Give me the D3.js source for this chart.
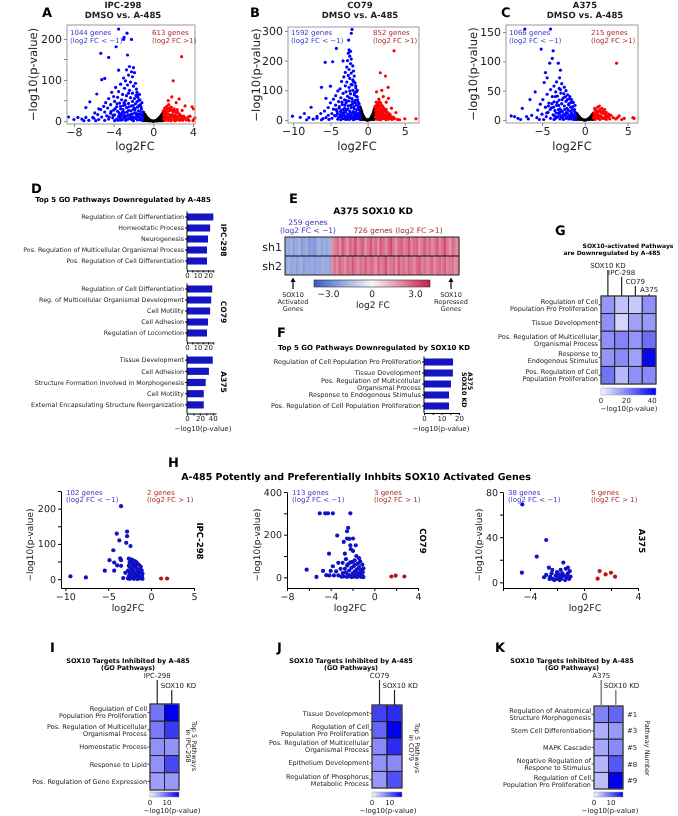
<!DOCTYPE html>
<html><head><meta charset="utf-8">
<script src="https://cdn.jsdelivr.net/npm/d3@7"></script>
<style>body{margin:0;background:#fff} svg{display:block;will-change:transform} text{font-family:"DejaVu Sans",Verdana,sans-serif;text-rendering:geometricPrecision}</style>
</head><body><div id="chart"></div><script>
// ---------- data: volcano plots (log2FC, -log10 p) ----------
var volA_blue = [[-3.5,224],[-2.65,214],[-2.95,204],[-3.0,199],[-2.2,199],[-3.75,181],[-5.3,165],[-4.5,155],[-2.6,161],[-3.5,124],[-4.9,104],[-5.2,101],[-5.7,66],[-6.4,47],[-6.8,33],[-8.55,10],[-7.6,9],[-6.8,9],[-6.1,9],[-7.2,5],[-8.0,4],[-5.9,20],[-5.5,30],
[-2.4,133],[-2.0,130],[-2.7,125],[-2.2,120],[-1.9,118],[-2.5,112],[-2.1,108],[-3.0,105],[-2.8,98],[-2.3,95],[-1.8,92],[-3.3,90],[-2.6,88],[-2.0,85],[-3.8,82],[-2.9,80],[-1.7,78],[-2.4,75],[-3.5,72],[-4.2,70],[-2.1,68],[-3.1,65],[-1.6,64],[-2.7,62],[-4.0,60],[-3.6,58],[-2.3,57],[-1.9,55],[-4.5,55],[-3.2,52],[-2.8,50],[-1.5,50],[-2.1,48],[-3.9,48],[-4.8,45],[-3.4,44],[-2.5,43],[-1.8,42],[-1.3,40],[-4.3,40],[-3.0,38],[-2.2,37],[-5.0,36],[-3.7,35],[-1.6,34],[-2.7,33],[-4.6,32],[-1.2,30],[-3.3,30],[-2.0,29],[-5.3,28],[-4.0,27],[-2.5,26],[-1.5,25],[-3.6,24],[-1.1,22],[-4.9,22],[-2.9,21],[-1.9,20],[-4.3,19],[-3.2,18],[-1.3,17],[-5.6,16],[-2.3,16],[-3.9,15],[-1.7,14],[-4.7,13],[-2.7,12],[-1.05,12],[-3.5,11],[-5.2,10],[-2.1,10],[-1.4,9],[-4.1,8],[-3.0,8],[-6.0,7],[-1.8,7],[-2.5,6],[-4.5,5],[-3.7,5],[-1.2,5],[-5.5,4],[-2.2,4],[-3.3,3],[-1.6,3],[-4.9,2],[-2.8,2],[-6.5,2],[-1.1,2],[-3.9,1],[-2.0,1],[-5.8,1],[-7.0,1],
[-1.15,45],[-1.35,52],[-1.55,58],[-1.75,62],[-1.25,35],[-1.45,38],[-1.65,47],[-1.85,28],[-2.05,38],[-2.25,25],[-2.45,35],[-2.65,22],[-2.85,40],[-3.05,28],[-3.25,12],[-3.45,20],[-3.65,42],[-3.85,30],[-4.05,14],[-4.25,24],[-4.45,10],[-1.15,14],[-1.35,24],[-1.55,12],[-1.75,20],[-1.95,9],[-2.15,17],[-2.35,11],[-2.55,15],[-2.75,5],[-2.95,14],[-3.15,3],[-3.35,7],[-3.55,2],[-1.1,7],[-1.3,3],[-1.5,17],[-1.7,6],[-1.9,32],[-2.1,3],[-2.3,7],[-2.6,4],[-2.9,10],[-3.1,22],[-3.4,14],[-1.4,65],[-1.65,70],[-2.5,68],[-2.95,45],[-3.3,36]];
var volA_black = [[-1,22],[-0.9,18],[-0.8,15],[-0.7,11],[-0.6,8],[-0.5,6],[-0.4,4],[-0.3,2],[-0.2,1],[0,0],[0.2,1],[0.3,2],[0.4,4],[0.5,6],[0.6,8],[0.7,11],[0.8,14],[0.9,18],[1,22],[-0.9,8],[-0.8,5],[-0.7,3],[-0.6,2],[-0.5,1],[-0.95,12],[0.95,12],[0.9,7],[0.8,4],[0.7,2],[0.6,1],[-0.4,0.5],[0.4,0.5],[-0.1,0.2],[0.1,0.2],[-0.85,2],[0.85,2],[-0.75,1],[0.75,1],[-1,4],[1,4],[-0.95,1],[0.95,1]];
var volA_red = [[2.85,157],[2.0,98],[1.86,59],[2.6,54],[3.2,37],[3.9,35],[4.05,30],[3.5,10],[4.1,5],[2.3,45],[1.5,50],[2.9,26],[3.7,12],[4.2,8],
[1.0,25],[1.2,28],[1.4,30],[1.6,32],[1.8,34],[2.1,30],[2.4,28],[1.1,20],[1.3,22],[1.5,24],[1.7,26],[2.0,22],[2.3,20],[2.6,18],[1.05,15],[1.25,16],[1.45,18],[1.65,15],[1.9,16],[2.2,14],[2.5,12],[2.8,10],[1.1,10],[1.35,11],[1.6,9],[1.85,10],[2.1,8],[2.4,7],[2.7,6],[3.0,5],[1.05,5],[1.3,6],[1.55,5],[1.8,4],[2.05,3],[2.35,3],[2.65,2],[2.95,2],[3.3,3],[1.2,2],[1.5,1.5],[1.75,1],[2.2,1],[3.6,1],[4.0,1],
[1.15,32],[1.35,36],[1.55,40],[1.75,28],[1.95,26],[2.15,24],[2.45,22],[2.75,14],[3.05,12],[1.2,13],[1.4,8],[1.7,12],[2.0,12],[2.3,9],[2.6,4],[2.9,7],[3.2,8],[3.5,4]];

var volB_blue = [[-2.1,305],[-2.2,292],[-2.55,269],[-4.2,241],[-2.5,236],[-2.3,231],[-5.7,194],[-4.7,196],[-3.3,199],[-6.2,110],[-5.0,114],[-5.6,73],[-7.6,43],[-8.5,22],[-10.1,13],[-9.05,9],[-7.9,8],[-6.8,6],[-6.0,5],
[-2.6,225],[-2.4,215],[-2.2,205],[-2.7,200],[-2.3,190],[-2.0,182],[-2.8,178],[-2.5,170],[-1.9,165],[-3.0,160],[-2.2,158],[-2.6,150],[-1.8,148],[-3.2,145],[-2.4,140],[-2.0,135],[-3.5,130],[-2.8,128],[-1.7,125],[-2.2,120],[-3.0,115],[-2.5,110],[-1.6,108],[-3.7,105],[-2.0,100],[-4.0,98],[-2.9,95],[-1.5,95],[-3.3,90],[-2.3,88],[-1.8,85],[-4.3,82],[-2.7,80],[-1.4,78],[-3.6,75],[-2.1,72],[-4.6,70],[-3.1,68],[-1.7,66],[-2.5,64],[-3.9,62],[-1.3,60],[-5.0,58],[-2.9,58],[-2.0,55],[-3.4,52],[-4.3,50],[-1.5,50],[-2.6,48],[-1.2,45],[-3.8,45],[-5.3,42],[-2.2,42],[-3.1,40],[-1.8,38],[-4.6,37],[-2.8,35],[-1.1,34],[-3.5,33],[-5.8,30],[-2.4,30],[-4.1,28],[-1.6,27],[-3.2,25],[-2.0,24],[-6.3,22],[-4.8,22],[-1.3,21],[-2.7,20],[-3.7,18],[-1.05,17],[-5.3,16],[-2.3,15],[-4.3,14],[-1.8,13],[-3.0,12],[-6.8,12],[-1.4,10],[-2.6,9],[-3.9,9],[-5.6,8],[-2.0,7],[-1.15,6],[-4.8,6],[-3.3,5],[-1.6,4],[-2.4,3],[-7.3,3],[-4.0,3],[-1.0,2],[-2.9,2],[-5.2,2],[-1.9,1],[-3.6,1],[-6.2,1],[-8.2,1],
[-1.15,55],[-1.35,68],[-1.55,80],[-1.75,92],[-1.25,40],[-1.45,35],[-1.65,58],[-1.85,45],[-2.05,62],[-2.25,50],[-2.45,75],[-2.65,38],[-2.85,65],[-3.05,50],[-3.25,35],[-3.45,60],[-3.65,28],[-3.85,40],[-4.05,20],[-4.25,35],[-4.45,15],[-1.15,24],[-1.35,14],[-1.55,18],[-1.75,12],[-1.95,28],[-2.15,20],[-2.35,24],[-2.55,14],[-2.75,10],[-2.95,28],[-3.15,18],[-3.35,22],[-3.55,10],[-1.1,9],[-1.3,5],[-1.5,7],[-1.7,20],[-1.9,5],[-2.1,11],[-2.3,5],[-2.6,3],[-2.9,6],[-3.1,4],[-3.4,14],[-1.4,100],[-1.6,115],[-2.1,118],[-2.4,98],[-1.9,130]];
var volB_black = [[-1,44],[-0.9,36],[-0.8,28],[-0.7,21],[-0.6,15],[-0.5,10],[-0.4,6],[-0.3,3],[-0.2,1],[0,0],[0.2,1],[0.3,3],[0.4,6],[0.5,10],[0.6,15],[0.7,21],[0.8,28],[0.9,36],[1,44],[-0.95,20],[-0.85,12],[-0.75,7],[-0.65,4],[-0.5,2],[0.5,2],[0.65,4],[0.75,7],[0.85,12],[0.95,20],[-0.9,4],[0.9,4],[-0.1,0.3],[0.1,0.3],[-0.95,30],[0.95,30],[-0.8,2],[0.8,2]];
var volB_red = [[3.55,233],[1.7,159],[2.4,148],[2.75,110],[1.2,95],[2.8,73],[2.1,79],[5.0,4],[6.5,4],[1.5,70],[2.5,60],[1.9,100],[3.2,40],[3.8,25],
[1.0,45],[1.2,50],[1.4,55],[1.6,48],[1.8,52],[2.0,45],[2.2,40],[2.5,35],[1.1,38],[1.3,40],[1.5,42],[1.7,38],[1.9,35],[2.3,30],[2.7,25],[3.0,20],[1.05,30],[1.25,32],[1.45,30],[1.65,28],[1.85,25],[2.1,22],[2.4,18],[2.9,12],[3.4,10],[1.1,20],[1.35,22],[1.6,18],[1.95,15],[2.2,12],[2.6,8],[3.1,6],[3.6,5],[1.05,10],[1.3,12],[1.55,9],[1.8,7],[2.05,5],[2.35,4],[2.8,3],[3.3,2],[4.0,2],[1.2,3],[1.5,2],[1.75,1],[2.5,1],[4.3,1],
[1.15,60],[1.35,48],[1.55,62],[1.75,58],[1.95,48],[2.15,35],[2.45,28],[2.75,18],[3.05,14],[1.2,25],[1.4,16],[1.7,14],[2.0,30],[2.3,10],[2.6,15],[2.9,8],[3.2,4],[3.5,8]];

var volC_blue = [[-7.0,155],[-4.0,155],[-5.1,121],[-3.7,118],[-3.8,105],[-3.1,97],[-4.1,97],[-2.85,85],[-4.6,81],[-4.4,72],[-2.95,72],[-4.75,64],[-5.8,48],[-6.4,35],[-7.3,20],[-8.6,7],[-8.2,6],[-6.8,6],[-7.8,3],
[-3.3,65],[-2.7,62],[-3.6,58],[-2.4,56],[-3.0,54],[-4.0,52],[-2.2,50],[-3.4,48],[-2.8,46],[-4.4,44],[-2.0,43],[-3.2,41],[-3.8,40],[-2.5,38],[-1.8,36],[-4.9,35],[-3.0,34],[-2.2,32],[-3.6,31],[-1.6,30],[-4.2,29],[-2.7,28],[-5.2,27],[-1.9,26],[-3.3,25],[-2.4,24],[-1.4,23],[-4.6,22],[-3.9,21],[-2.1,20],[-2.9,19],[-1.2,18],[-5.5,17],[-3.5,16],[-1.7,15],[-2.6,14],[-4.3,13],[-1.1,12],[-3.1,12],[-2.0,11],[-5.0,10],[-1.5,9],[-3.7,9],[-2.4,8],[-6.2,8],[-1.05,7],[-2.8,6],[-4.5,6],[-1.8,5],[-3.3,5],[-5.6,4],[-1.3,4],[-2.2,3],[-4.0,3],[-2.9,2],[-1.6,2],[-6.6,2],[-3.6,1],[-1.1,1],[-2.5,1],[-4.8,1],[-5.3,1],[-7.5,1],
[-1.15,25],[-1.35,30],[-1.55,35],[-1.75,40],[-1.25,15],[-1.45,18],[-1.65,22],[-1.85,28],[-2.05,35],[-2.25,40],[-2.45,45],[-2.65,35],[-2.85,52],[-3.05,25],[-3.25,30],[-3.45,40],[-3.65,22],[-3.85,28],[-4.05,18],[-4.25,24],[-4.45,12],[-1.15,5],[-1.35,9],[-1.55,12],[-1.75,8],[-1.95,17],[-2.15,13],[-2.35,18],[-2.55,9],[-2.75,16],[-2.95,10],[-3.15,6],[-3.35,12],[-3.55,7],[-1.1,2],[-1.3,1],[-1.5,5],[-1.7,3],[-1.9,2],[-2.1,6],[-2.3,10],[-2.6,4],[-2.9,14],[-3.1,18],[-3.4,3]];
var volC_black = [[-1,12],[-0.9,10],[-0.8,8],[-0.7,6],[-0.6,4.5],[-0.5,3],[-0.4,2],[-0.3,1],[0,0],[0.3,1],[0.4,2],[0.5,3],[0.6,4.5],[0.7,6],[0.8,8],[0.9,10],[1,12],[-0.95,5],[-0.85,3],[-0.7,2],[-0.55,1],[0.55,1],[0.7,2],[0.85,3],[0.95,5],[-0.15,0.2],[0.15,0.2],[-0.9,1],[0.9,1]];
var volC_red = [[3.7,97],[1.7,24],[2.3,18],[3.05,8],[4.0,7],[5.6,4],[5.75,3],[1.5,22],[2.0,20],[1.2,17],[1.8,15],[2.5,13],[1.05,12],[1.4,13],[2.2,11],[2.8,10],[1.1,8],[1.6,9],[1.9,7],[2.4,6],[2.7,5],[3.3,4],[1.0,4],[1.3,5],[1.5,3],[2.1,3],[2.9,2],[3.6,2],[4.3,1],[1.2,1],[1.75,1],[2.5,1],[3.8,4],[4.6,3],
[1.15,20],[1.35,16],[1.55,14],[1.75,18],[1.95,12],[2.15,15],[2.45,9],[2.75,7],[1.2,10],[1.4,7],[1.7,5],[2.0,4],[2.3,3]];

// ---------- data: GO bar charts ----------
var goD_ipc = ["Regulation of Cell Differentiation","Homeostatic Process","Neurogenesis","Pos. Regulation of Multicellular Organismal Process","Pos. Regulation of Cell Differentiation"];
var goD_ipcVals = [25,22,20,19,19];
var goD_co79 = ["Regulation of Cell Differentiation","Reg. of Multicellular Organismal Development","Cell Motility","Cell Adhesion","Regulation of Locomotion"];
var goD_co79Vals = [24,23,22,20,19];
var goD_a375 = ["Tissue Development","Cell Adhesion","Structure Formation Involved in Morphogenesis","Cell Motility","External Encapsulating Structure Reorganization"];
var goD_a375Vals = [40,34,29,26,26];
var goF = ["Regulation of Cell Population Pro Proliferation","Tissue Development","Pos. Regulation of Multicellular\nOrganismal Process","Response to Endogenous Stimulus","Pos. Regulation of Cell Population Proliferation"];
var goFVals = [16.6,16.5,15.4,14.3,14.3];

// ---------- data: SOX10 KD heatmap (log2 FC per gene block) ----------
var kdRows = ["sh1","sh2"];
var kd_sh1 = [-1.9,-2.1,-1.8,-2.2,-2.0,-1.7,-2.3,-2.1,-1.9,-2.4,-2.2,-2.5,-2.0,-1.8,-2.1,-1.9,-2.0,-1.8,
 1.8,2.2,2.6,2.0,2.9,2.4,1.9,2.7,2.3,3.1,2.1,2.5,2.8,1.9,2.4,3.0,2.2,2.6,2.0,2.9,2.5,2.1,2.7,3.2,2.3,1.9,2.6,2.8,2.2,2.4,3.0,2.1,2.5,2.7,1.9,2.3,2.9,2.2,2.6,2.0,2.4,2.8,2.1,2.5,3.1,2.3,1.8,2.6,2.2,2.0];
var kd_sh2 = [-2.0,-1.8,-2.1,-1.9,-2.2,-2.0,-1.8,-2.3,-2.0,-2.1,-1.9,-2.2,-2.0,-2.1,-1.8,-2.0,-1.9,-2.1,
 2.0,2.4,2.1,2.7,2.3,1.9,2.6,2.2,2.9,2.4,2.0,2.5,2.3,2.8,2.1,2.6,2.4,1.9,2.7,2.2,2.5,3.0,2.1,2.4,2.6,2.0,2.8,2.3,2.5,2.1,2.7,2.4,2.0,2.6,2.9,2.2,2.5,2.1,2.3,2.7,2.0,2.4,2.6,2.2,2.8,2.1,2.3,2.5,1.9,2.2];

// ---------- data: pathway heatmaps (-log10 p) ----------
var gRows = ["Regulation of Cell\nPopulation Pro Proliferation","Tissue Development","Pos. Regulation of Multicellular\nOrganismal Process","Response to\nEndogenous Stimulus","Pos. Regulation of Cell\nPopulation Proliferation"];
var gCols = ["SOX10 KD","IPC-298","CO79","A375"];
var gVals = [[17,9,8,18],[18,6,15,16],[18,20,17,24],[17,19,15,42],[23,11,18,19]];
var iRows = ["Regulation of Cell\nPopulation Pro Proliferation","Pos. Regulation of Multicellular\nOrganismal Process","Homeostatic Process","Response to Lipid","Pos. Regulation of Gene Expression"];
var iCols = ["IPC-298","SOX10 KD"];
var iVals = [[9,17],[8.5,13],[7,7],[7,12],[6,6.5]];
var jRows = ["Tissue Development","Regulation of Cell\nPopulation Pro Proliferation","Pos. Regulation of Multicellular\nOrganismal Process","Epithelium Development","Regulation of Phosphorus\nMetabolic Process"];
var jCols = ["CO79","SOX10 KD"];
var jVals = [[12.5,14],[10,17],[7.5,14],[7,7.5],[6.5,11.5]];
var kRows = ["Regulation of Anatomical\nStructure Morphogenesis","Stem Cell Differentiation","MAPK Cascade","Negative Regulation of\nRespone to Stimulus","Regulation of Cell\nPopulation Pro Proliferation"];
var kCols = ["A375","SOX10 KD"];
var kVals = [[8,10],[5,6.5],[5.5,7.5],[4.5,11],[4,17]];
var kNums = ["#1","#3","#5","#8","#9"];

// ---------- data: SOX10-activated genes volcano (H) ----------
var hIpc_blue = [[-9.4,8],[-7.6,5],[-5.4,24],[-3.5,207],[-4.0,129],[-2.8,135],[-2.8,122],[-3.7,110],[-2.9,103],[-2.4,94],[-4.4,82],[-4.85,54],[-3.6,59],[-3.5,54],[-4.3,47],[-3.95,39],[-3.5,38],[-4.3,24],[-3.0,18],[-3.25,3],
[-2.6,58],[-2.4,56],[-2.2,55],[-2.0,52],[-1.8,50],[-2.5,48],[-2.3,46],[-1.6,45],[-2.1,42],[-1.4,40],[-2.6,38],[-1.9,36],[-1.2,35],[-2.4,32],[-1.7,30],[-2.2,28],[-1.5,27],[-1.1,25],[-2.7,24],[-2.0,22],[-1.3,20],[-2.5,18],[-1.8,17],[-1.0,16],[-2.3,14],[-1.6,13],[-2.1,11],[-1.4,10],[-2.6,9],[-1.2,8],[-1.9,7],[-2.4,6],[-1.5,5],[-1.1,4],[-2.2,3],[-1.7,3],[-2.7,2],[-1.3,2],[-2.0,1],[-1.0,1],[-2.5,1],[-1.6,0.5],[-1.9,14],[-1.05,9],[-2.35,20],[-1.45,18],[-1.25,28],[-2.15,35],[-1.75,40],[-1.55,22]];
var hIpc_red = [[1.16,2],[1.86,2]];
var hCo_blue = [[-5.0,300],[-4.5,300],[-4.25,300],[-3.8,300],[-2.2,300],[-2.4,232],[-2.5,216],[-3.4,196],[-2.5,182],[-2.3,180],[-1.95,182],[-2.8,166],[-2.2,150],[-1.7,150],[-2.15,132],[-4.15,111],[-1.95,124],[-6.2,36],[-5.3,2],[-4.7,30],[-4.4,10],[-1.65,100],[-1.4,90],[-2.7,111],[-2.9,68],[-3.3,68],[-3.8,52],[-4.0,30],[-2.4,62],[-2.0,72],[-3.1,40],[-3.5,28],[-3.7,9],[-4.1,9],[-3.3,9],
[-2.6,85],[-1.8,80],[-1.3,75],[-2.2,70],[-1.5,65],[-1.1,60],[-2.5,55],[-1.9,52],[-1.4,48],[-2.1,45],[-1.0,42],[-2.7,40],[-1.6,38],[-1.2,35],[-2.3,32],[-1.8,28],[-1.05,25],[-2.6,22],[-1.5,20],[-2.0,18],[-1.3,15],[-2.4,12],[-1.7,10],[-1.1,8],[-2.2,6],[-1.4,5],[-2.8,4],[-1.9,3],[-1.2,2],[-2.5,2],[-1.6,1],[-2.1,1],[-1.0,1],[-3.0,3],[-2.9,20],[-1.75,60],[-1.25,30]];
var hCo_red = [[1.56,4],[1.95,8],[2.75,4]];
var hA_blue = [[-4.57,69],[-4.6,8.6],[-2.8,37.5],[-3.5,22.8],[-2.96,4.5],[-2.8,6.6],[-2.6,13],[-2.35,11],[-1.73,11],[-1.53,17.5],[-1.19,13],[-2.5,5],[-2.3,3],[-2.1,6],[-1.9,4],[-1.7,3],[-1.5,6],[-1.3,4],[-1.1,3],[-2.4,8],[-2.0,9],[-1.6,8],[-1.2,8],[-1.0,5],[-2.2,2],[-1.8,2],[-1.4,2],[-1.05,10],[-1.35,12],[-1.85,7],[-2.55,3],[-1.25,6],[-1.65,5],[-2.0,3]];
var hA_red = [[1.01,3.3],[1.16,10],[1.6,7],[2.0,8.5],[2.3,5]];

// ---------- setup ----------
var svg = d3.select("#chart").append("svg").attr("width", 678).attr("height", 816);
svg.append("rect").attr("width", 678).attr("height", 816).attr("fill", "#fff");
var defs = svg.append("defs");
var TXT = "#222", BLUE_T = "#3838c8", RED_T = "#b02a2a";

function txt(x, y, s, fs, o) {
  o = o || {};
  var t = svg.append("text").attr("x", x).attr("y", y).attr("font-size", fs)
    .attr("text-anchor", o.anchor || "start").attr("fill", o.fill || TXT)
    .attr("font-weight", o.bold ? "bold" : null).text(s);
  if (o.rot) t.attr("transform", "rotate(" + o.rot + "," + x + "," + y + ")");
  return t;
}
function styleAxis(g, fs, col) {
  g.attr("font-size", fs).attr("font-family", null);
  g.selectAll("line").attr("stroke", col);
  g.selectAll(".domain").attr("stroke", col);
  g.selectAll("text").attr("fill", TXT);
}
function dots(x, y, data, r, col) {
  svg.append("g").selectAll("circle").data(data).join("circle")
    .attr("cx", function(d) { return x(d[0]); }).attr("cy", function(d) { return y(d[1]); })
    .attr("r", r).attr("fill", col);
}

// ---------- A-C: volcano plots ----------
function volcano(p) {
  var x = d3.scaleLinear().domain(p.xd).range([p.l, p.r]);
  var y = d3.scaleLinear().domain(p.yd).range([p.b, p.t]);
  dots(x, y, p.black, 1.6, "#000");
  dots(x, y, p.blue, 1.6, "#0000ff");
  dots(x, y, p.red, 1.6, "#ff0000");
  svg.append("rect").attr("x", p.l).attr("y", p.t).attr("width", p.r - p.l).attr("height", p.b - p.t)
    .attr("fill", "none").attr("stroke", "#9a9a9a");
  var xa = svg.append("g").attr("transform", "translate(0," + p.b + ")")
    .call(d3.axisBottom(x).tickValues(p.xt).tickSize(3).tickPadding(1));
  xa.select(".domain").remove();
  styleAxis(xa, 11, "#888");
  var ya = svg.append("g").attr("transform", "translate(" + p.l + ",0)")
    .call(d3.axisLeft(y).tickValues(p.yt).tickSize(3).tickPadding(2));
  ya.select(".domain").remove();
  styleAxis(ya, 11, "#888");
  if (p.ym) svg.append("g").selectAll("line").data(p.ym).join("line")
    .attr("x1", p.l - 3).attr("x2", p.l).attr("y1", y).attr("y2", y).attr("stroke", "#888");
  txt(p.tc, 8, p.title, 8.5, {anchor: "middle", bold: true});
  txt(p.tc, 18, "DMSO vs. A-485", 8.5, {anchor: "middle", bold: true});
  txt(p.lx, 17, p.letter, 13, {bold: true, fill: "#000"});
  txt(p.yl, (p.t + p.b) / 2, "\u2212log10(p-value)", 11.5, {anchor: "middle", rot: -90});
  txt(p.xc, 150, "log2FC", 11.5, {anchor: "middle"});
  txt(p.l + 3, 35, p.nDown + " genes", 7, {fill: BLUE_T});
  txt(p.l + 3, 43, "(log2 FC < \u22121)", 7, {fill: BLUE_T});
  txt(p.rx, 35, p.nUp + " genes", 7, {fill: RED_T});
  txt(p.rx, 43, "(log2 FC >1)", 7, {fill: RED_T});
}
volcano({l: 67, r: 195, t: 25, b: 124, xd: [-8.7, 4.2], yd: [-7, 234], xt: [-8, -4, 0, 4], yt: [0, 100, 200], ym: [50, 150],
  blue: volA_blue, black: volA_black, red: volA_red, title: "IPC-298", tc: 123, lx: 42, letter: "A", yl: 37, xc: 135,
  nDown: 1044, nUp: 613, rx: 152});
volcano({l: 288, r: 419, t: 27, b: 123, xd: [-10.7, 6.9], yd: [-10, 313], xt: [-10, -5, 0, 5], yt: [0, 100, 200, 300],
  blue: volB_blue, black: volB_black, red: volB_red, title: "CO79", tc: 360, lx: 250, letter: "B", yl: 260, xc: 357,
  nDown: 1592, nUp: 852, rx: 373});
volcano({l: 506, r: 638, t: 25, b: 123, xd: [-9.2, 6.2], yd: [-5, 162], xt: [-5, 0, 5], yt: [0, 50, 100, 150],
  blue: volC_blue, black: volC_black, red: volC_red, title: "A375", tc: 585, lx: 501, letter: "C", yl: 477, xc: 572,
  nDown: 1066, nUp: 215, rx: 591});

// ---------- D & F: GO bar charts ----------
function bars(p) {
  var y = d3.scaleBand().domain(p.names).range([p.t, p.b]).paddingInner(0.36).paddingOuter(0.18);
  var x = d3.scaleLinear().domain(p.xd).range([p.x0, p.x1]);
  svg.append("g").selectAll("rect").data(p.vals).join("rect")
    .attr("x", x(0)).attr("y", function(d, i) { return y(p.names[i]); })
    .attr("height", y.bandwidth()).attr("width", function(d) { return x(d) - x(0); })
    .attr("fill", "#1414c0");
  var axB = p.b + p.gap;
  svg.append("line").attr("x1", p.x0).attr("x2", p.x0).attr("y1", p.t).attr("y2", axB).attr("stroke", "#000");
  p.names.forEach(function(n) {
    var cy = y(n) + y.bandwidth() / 2, parts = n.split("\n");
    svg.append("line").attr("x1", p.x0 - 2).attr("x2", p.x0).attr("y1", cy).attr("y2", cy).attr("stroke", "#000");
    parts.forEach(function(s, k) {
      txt(p.x0 - 3, cy + (k - (parts.length - 1) / 2) * 7 + 2.3, s, p.fs, {anchor: "end"});
    });
  });
  var xa = svg.append("g").attr("transform", "translate(0," + axB + ")")
    .call(d3.axisBottom(x).tickValues(p.xt).tickSize(2).tickPadding(1).tickSizeOuter(0)
      .tickFormat(function(d) { return p.xl.indexOf(d) >= 0 ? d : ""; }));
  styleAxis(xa, 7, "#000");
}
txt(31, 193, "D", 13, {bold: true, fill: "#000"});
txt(123, 202, "Top 5 GO Pathways Downregulated by A-485", 7, {anchor: "middle", bold: true, fill: "#000"});
bars({names: goD_ipc, vals: goD_ipcVals, t: 211.5, b: 266.5, gap: 4, x0: 187, x1: 213.3, xd: [0, 25], xt: [0, 5, 10, 15, 20, 25], xl: [0, 10, 20], fs: 6.3});
bars({names: goD_co79, vals: goD_co79Vals, t: 283.5, b: 338.5, gap: 4, x0: 187, x1: 213.3, xd: [0, 25], xt: [0, 5, 10, 15, 20, 25], xl: [0, 10, 20], fs: 6.3});
bars({names: goD_a375, vals: goD_a375Vals, t: 354.5, b: 410.5, gap: 3, x0: 187, x1: 216, xd: [0, 45], xt: [0, 10, 20, 30, 40], xl: [0, 20, 40], fs: 6.3});
txt(221, 240, "IPC-298", 7.5, {anchor: "middle", bold: true, rot: 90, fill: "#000"});
txt(221, 312, "CO79", 7.5, {anchor: "middle", bold: true, rot: 90, fill: "#000"});
txt(221, 382, "A375", 7.5, {anchor: "middle", bold: true, rot: 90, fill: "#000"});
txt(203, 431, "\u2212log10(p-value)", 7, {anchor: "middle"});

txt(277, 337, "F", 13, {bold: true, fill: "#000"});
txt(374, 350, "Top 5 GO Pathways Downregulated by SOX10 KD", 7, {anchor: "middle", bold: true, fill: "#000"});
bars({names: goF, vals: goFVals, t: 356.5, b: 411.5, gap: 1.5, x0: 424, x1: 459, xd: [0, 20], xt: [0, 5, 10, 15, 20], xl: [0, 10, 20], fs: 6.5});
txt(468, 372, "A375", 6.3, {bold: true, rot: 90, fill: "#000"});
txt(462, 372, "SOX10 KD", 6.3, {bold: true, rot: 90, fill: "#000"});
txt(441, 430.5, "\u2212log10(p-value)", 7, {anchor: "middle"});

// ---------- E: SOX10 KD heatmap ----------
txt(289, 203, "E", 13, {bold: true, fill: "#000"});
txt(373, 214, "A375 SOX10 KD", 9, {anchor: "middle", bold: true, fill: "#000"});
txt(308, 225, "259 genes", 7.5, {anchor: "middle", fill: BLUE_T});
txt(308, 233, "(log2 FC < \u22121)", 7.5, {anchor: "middle", fill: BLUE_T});
txt(398, 233, "726 genes (log2 FC >1)", 7.5, {anchor: "middle", fill: RED_T});
var ex = d3.scaleBand().domain(d3.range(kd_sh1.length)).range([285, 459]);
var ey = d3.scaleBand().domain(kdRows).range([237, 275]);
var ecol = d3.scaleLinear().domain([-4, 0, 4]).range(["#3659c9", "#f7f7f7", "#c81d4e"]);
[kd_sh1, kd_sh2].forEach(function(row, r) {
  svg.append("g").selectAll("rect").data(row).join("rect")
    .attr("x", function(d, i) { return ex(i); }).attr("y", ey(kdRows[r]))
    .attr("width", ex.bandwidth() + 0.4).attr("height", ey.bandwidth()).attr("fill", function(d) { return ecol(d); });
  txt(282, ey(kdRows[r]) + ey.bandwidth() / 2 + 4, kdRows[r], 11, {anchor: "end"});
});
svg.append("rect").attr("x", 285).attr("y", 237).attr("width", 174).attr("height", 38).attr("fill", "none").attr("stroke", "#222");
svg.append("line").attr("x1", 285).attr("x2", 459).attr("y1", ey("sh2")).attr("y2", ey("sh2")).attr("stroke", "#111");
var eg = defs.append("linearGradient").attr("id", "gE");
[-4, -2, 0, 2, 4].forEach(function(v, i) { eg.append("stop").attr("offset", (i * 25) + "%").attr("stop-color", ecol(v)); });
var ecx = d3.scaleLinear().domain([-4, 4]).range([314, 430]);
svg.append("rect").attr("x", 314).attr("y", 280).attr("width", 116).attr("height", 7).attr("fill", "url(#gE)").attr("stroke", "#333").attr("stroke-width", 0.6);
[-3, 0, 3].forEach(function(v) { txt(ecx(v), 297, v === 0 ? "0" : d3.format(".1f")(v).replace("-", "\u2212"), 9, {anchor: "middle"}); });
txt(373, 308, "log2 FC", 9, {anchor: "middle"});
[[293, ["SOX10", "Activated", "Genes"]], [451, ["SOX10", "Repressed", "Genes"]]].forEach(function(a) {
  svg.append("line").attr("x1", a[0]).attr("x2", a[0]).attr("y1", 289).attr("y2", 281).attr("stroke", "#000").attr("stroke-width", 1.2);
  svg.append("path").attr("d", "M" + (a[0] - 2.5) + ",282 L" + a[0] + ",277.5 L" + (a[0] + 2.5) + ",282Z").attr("fill", "#000");
  a[1].forEach(function(s, k) { txt(a[0], 297 + k * 7, s, 6.5, {anchor: "middle"}); });
});

// ---------- G, I, J, K: pathway heatmaps ----------
function heat(p) {
  var x = d3.scaleBand().domain(p.cols).range([p.l, p.r]);
  var y = d3.scaleBand().domain(p.rows).range([p.t, p.b]);
  var c = d3.scaleLinear().domain([0, p.max]).range(["#f6f6ff", "#0000ee"]);
  var cells = [];
  p.vals.forEach(function(row, i) { row.forEach(function(v, j) { cells.push({r: p.rows[i], c: p.cols[j], v: v}); }); });
  svg.append("g").selectAll("rect").data(cells).join("rect")
    .attr("x", function(d) { return x(d.c); }).attr("y", function(d) { return y(d.r); })
    .attr("width", x.bandwidth()).attr("height", y.bandwidth())
    .attr("fill", function(d) { return c(d.v); }).attr("stroke", "#1a1a1a").attr("stroke-width", 0.9);
  svg.append("rect").attr("x", p.l).attr("y", p.t).attr("width", p.r - p.l).attr("height", p.b - p.t)
    .attr("fill", "none").attr("stroke", "#555").attr("stroke-width", 1);
  p.rows.forEach(function(r) {
    var cy = y(r) + y.bandwidth() / 2, parts = r.split("\n");
    svg.append("line").attr("x1", p.l - 2.5).attr("x2", p.l).attr("y1", cy).attr("y2", cy).attr("stroke", "#444");
    parts.forEach(function(s, k) { txt(p.l - 3, cy + (k - (parts.length - 1) / 2) * 7 + 2.3, s, 6.5, {anchor: "end"}); });
  });
  p.heads.forEach(function(h, j) {
    var cx = x(p.cols[j]) + x.bandwidth() / 2;
    txt(cx + (h.dx || 0), h.y, p.cols[j], 7, {anchor: h.anchor || "middle"});
    svg.append("line").attr("x1", cx).attr("x2", cx).attr("y1", h.y + 2).attr("y2", p.t)
      .attr("stroke", p.lineCol || "#222").attr("stroke-width", p.lineW || 1.2);
  });
  var gid = "g" + p.id;
  var lg = defs.append("linearGradient").attr("id", gid);
  lg.append("stop").attr("offset", "0%").attr("stop-color", c(0));
  lg.append("stop").attr("offset", "100%").attr("stop-color", c(p.max));
  svg.append("rect").attr("x", p.l).attr("y", p.cbY).attr("width", p.r - p.l).attr("height", p.cbH)
    .attr("fill", "url(#" + gid + ")").attr("stroke", "#999").attr("stroke-width", 0.5);
  var cx = d3.scaleLinear().domain([0, p.max]).range([p.l, p.r]);
  p.cbT.forEach(function(v) { txt(cx(v), p.cbY + p.cbH + 7.5, String(v), 7, {anchor: "middle"}); });
  txt(p.cbLx, p.cbY + p.cbH + 16, "\u2212log10(p-value)", 7, {anchor: "middle"});
  return y;
}
txt(555, 235, "G", 13, {bold: true, fill: "#000"});
txt(628, 248, "SOX10-activated Pathways", 6, {anchor: "middle", bold: true, fill: "#000"});
txt(612, 254.5, "are Downregulated by A-485", 6, {anchor: "middle", bold: true, fill: "#000"});
heat({id: "G", rows: gRows, cols: gCols, vals: gVals, max: 43, l: 601, r: 656, t: 296, b: 384,
  heads: [{y: 268}, {y: 275}, {y: 284}, {y: 292}], cbY: 388, cbH: 7, cbT: [0, 20, 40], cbLx: 629});

function goTitle(cx, letter, lx) {
  txt(lx, 652, letter, 13, {bold: true, fill: "#000"});
  txt(cx, 662.5, "SOX10 Targets Inhibited by A-485", 6.5, {anchor: "middle", bold: true, fill: "#000"});
  txt(cx, 669.5, "(GO Pathways)", 6.5, {anchor: "middle", bold: true, fill: "#000"});
}
goTitle(128, "I", 50);
heat({id: "I", rows: iRows, cols: iCols, vals: iVals, max: 17, l: 150, r: 179, t: 704, b: 790,
  heads: [{y: 678}, {y: 688, anchor: "start", dx: -11}], cbY: 792, cbH: 5, cbT: [0, 10], cbLx: 172});
txt(192, 746, "Top 5 Pathways", 6.5, {anchor: "middle", rot: 90});
txt(186, 746, "in IPC-298", 6.5, {anchor: "middle", rot: 90});

goTitle(351, "J", 277);
heat({id: "J", rows: jRows, cols: jCols, vals: jVals, max: 17, l: 372, r: 402, t: 705, b: 788,
  heads: [{y: 678}, {y: 688, anchor: "start", dx: -12}], cbY: 792, cbH: 5, cbT: [0, 10], cbLx: 388});
txt(415, 748, "Top 5 Pathways", 6.5, {anchor: "middle", rot: 90});
txt(409, 748, "in CO79", 6.5, {anchor: "middle", rot: 90});

goTitle(572, "K", 495);
var ky = heat({id: "K", rows: kRows, cols: kCols, vals: kVals, max: 17, l: 594, r: 623, t: 706, b: 789,
  heads: [{y: 678}, {y: 688, anchor: "start", dx: -12}], cbY: 792, cbH: 5, cbT: [0, 10], cbLx: 610,
  lineCol: "#888", lineW: 1.6});
kRows.forEach(function(r, i) { txt(627, ky(r) + ky.bandwidth() / 2 + 2.5, kNums[i], 7, {}); });
txt(645, 748, "Pathway Number", 6.5, {anchor: "middle", rot: 90});

// ---------- H: SOX10-activated gene volcanoes ----------
txt(168, 467, "H", 13, {bold: true, fill: "#000"});
txt(356, 480, "A-485 Potently and Preferentially Inhbits SOX10 Activated Genes", 9.5, {anchor: "middle", bold: true, fill: "#000"});
function smallVolc(p) {
  var x = d3.scaleLinear().domain(p.xd).range([p.l, p.r]);
  var y = d3.scaleLinear().domain(p.yd).range([p.b, p.t]);
  dots(x, y, p.blue, 2.1, "#1010c8");
  dots(x, y, p.red, 2.1, "#b01818");
  var xa = svg.append("g").attr("transform", "translate(0," + p.b + ")")
    .call(d3.axisBottom(x).tickValues(p.xt).tickSize(3).tickPadding(2).tickSizeOuter(0)
      .tickFormat(function(d) { return p.xl.indexOf(d) >= 0 ? d3.format("")(d) : ""; }));
  styleAxis(xa, 9.5, "#000");
  var ya = svg.append("g").attr("transform", "translate(" + p.l + ",0)")
    .call(d3.axisLeft(y).tickValues(p.yt).tickSize(3).tickPadding(2).tickSizeOuter(0)
      .tickFormat(function(d) { return p.yl.indexOf(d) >= 0 ? d : ""; }));
  styleAxis(ya, 9.5, "#000");
  txt(p.l + 5, 495, p.nDown + " genes", 7, {fill: BLUE_T});
  txt(p.l + 5, 502, "(log2 FC < \u22121)", 7, {fill: BLUE_T});
  txt(p.rx, 495, p.nUp + " genes", 7, {fill: RED_T});
  txt(p.rx, 502, "(log2 FC > 1)", 7, {fill: RED_T});
  txt(p.gx, 541, p.name, 8.5, {anchor: "middle", bold: true, rot: 90, fill: "#000"});
  txt(p.ylx, 545, "\u2212log10(p-value)", 9, {anchor: "middle", rot: -90});
  txt(p.xc, 611, "log2FC", 9.5, {anchor: "middle"});
}
smallVolc({l: 61, r: 194, t: 491, b: 588, xd: [-10.5, 5], yd: [-25, 250], xt: [-10, -5, 0, 5], xl: [-10, -5, 0, 5],
  yt: [0, 50, 100, 150, 200, 250], yl: [0, 100, 200], blue: hIpc_blue, red: hIpc_red, nDown: 102, nUp: 2, rx: 147,
  name: "IPC-298", gx: 197, ylx: 33, xc: 128});
smallVolc({l: 287, r: 418, t: 492, b: 588, xd: [-8, 4], yd: [-50, 400], xt: [-8, -6, -4, -2, 0, 2, 4], xl: [-8, -4, 0, 4],
  yt: [0, 100, 200, 300, 400], yl: [0, 200, 400], blue: hCo_blue, red: hCo_red, nDown: 113, nUp: 3, rx: 374,
  name: "CO79", gx: 420, ylx: 260, xc: 350});
smallVolc({l: 503, r: 638, t: 492, b: 588, xd: [-6, 4], yd: [-5, 80], xt: [-6, -4, -2, 0, 2, 4], xl: [-4, 0, 4],
  yt: [0, 20, 40, 60, 80], yl: [0, 40, 80], blue: hA_blue, red: hA_red, nDown: 38, nUp: 5, rx: 591,
  name: "A375", gx: 639, ylx: 482, xc: 585});
</script></body></html>
